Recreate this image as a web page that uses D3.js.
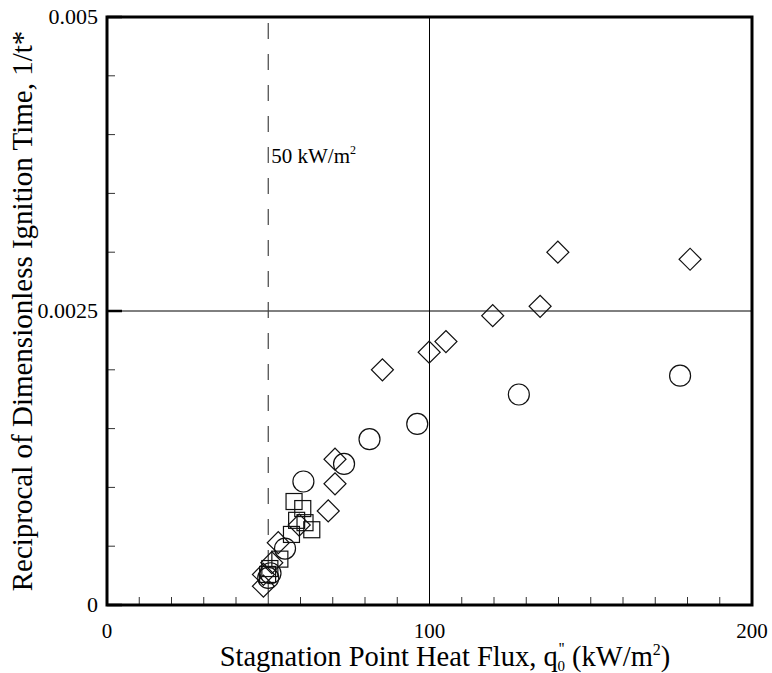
<!DOCTYPE html>
<html>
<head>
<meta charset="utf-8">
<script src="https://cdn.jsdelivr.net/npm/d3@7"></script>
<style>
  html, body { margin: 0; padding: 0; background: #fff; }
  svg { display: block; }
  text { font-family: "Liberation Serif", "Times New Roman", serif; fill: #000; }
</style>
</head>
<body>
<script>
// Ignition data: stagnation point heat flux (kW/m^2) vs reciprocal of dimensionless ignition time
const diamondFlux = [139.8, 180.8, 134.3, 119.6, 105.1, 99.9, 85.4, 70.7, 70.7, 68.6, 59.6, 53.1, 51.1, 48.5, 48.5];
const diamondInv  = [0.00300, 0.00294, 0.00254, 0.00246, 0.00224, 0.00215, 0.00200, 0.00124, 0.00103, 0.00080, 0.00068, 0.00053, 0.00036, 0.00026, 0.00016];

const circleFlux = [177.7, 127.7, 96.2, 81.4, 73.5, 60.9, 55.2, 50.7, 50.0];
const circleInv  = [0.00195, 0.00179, 0.00154, 0.00141, 0.00120, 0.00105, 0.00048, 0.00027, 0.00023];

const squareFlux = [58.0, 60.7, 58.8, 61.4, 63.5, 57.2, 53.6, 50.5, 49.8];
const squareInv  = [0.00088, 0.00082, 0.00072, 0.00070, 0.00064, 0.00060, 0.00039, 0.00031, 0.00026];

const xMajorTicks = [0, 100, 200];
const yMajorTicks = [0, 0.0025, 0.005];
const yTickLabels = ["0", "0.0025", "0.005"];
const refFlux = 50;

const W = 772, H = 673;
const margin = { left: 107, right: 20, top: 17, bottom: 68 };

const svg = d3.select("body").append("svg").attr("width", W).attr("height", H);

const x = d3.scaleLinear().domain([0, 200]).range([margin.left, W - margin.right]);
const y = d3.scaleLinear().domain([0, 0.005]).range([H - margin.bottom, margin.top]);

const x0 = x.range()[0], x1 = x.range()[1];
const y0 = y.range()[0], y1 = y.range()[1];

// Grid lines at the middle major ticks
svg.append("line").attr("x1", x(100)).attr("x2", x(100)).attr("y1", y1).attr("y2", y0)
  .attr("stroke", "#000").attr("stroke-width", 1);
svg.append("line").attr("x1", x0).attr("x2", x1).attr("y1", y(0.0025)).attr("y2", y(0.0025))
  .attr("stroke", "#000").attr("stroke-width", 1);

// Reference heat flux
svg.append("line").attr("x1", x(refFlux)).attr("x2", x(refFlux)).attr("y1", y1).attr("y2", y0)
  .attr("stroke", "#444").attr("stroke-width", 1.2).attr("stroke-dasharray", "16,15")
  .attr("stroke-dashoffset", -6);
svg.append("text").attr("x", x(refFlux) + 3).attr("y", 163).attr("font-size", 21).text("50 kW/m")
  .append("tspan").attr("dy", -9).attr("font-size", 12).text("2");

// Minor ticks
const xMinor = d3.range(10, 200, 10).filter(v => v !== 100);
svg.append("g").selectAll("line").data(xMinor).join("line")
  .attr("x1", d => x(d)).attr("x2", d => x(d)).attr("y1", y0).attr("y2", y0 - 8)
  .attr("stroke", "#333").attr("stroke-width", 1);
const yMinor = d3.range(1, 10).map(i => i * 0.0005).filter(v => Math.abs(v - 0.0025) > 1e-9);
svg.append("g").selectAll("line").data(yMinor).join("line")
  .attr("x1", x0).attr("x2", x0 + 8).attr("y1", d => y(d)).attr("y2", d => y(d))
  .attr("stroke", "#333").attr("stroke-width", 1);
// Major ticks on the left
svg.append("g").selectAll("line").data(yMajorTicks).join("line")
  .attr("x1", x0).attr("x2", x0 + 15).attr("y1", d => y(d)).attr("y2", d => y(d))
  .attr("stroke", "#000").attr("stroke-width", 2.5);

// Markers
const mk = svg.append("g").attr("fill", "none").attr("stroke", "#111").attr("stroke-width", 1.2);
const sq = squareFlux.map((v, i) => [v, squareInv[i]]);
mk.selectAll("rect.sq").data(sq).join("rect")
  .attr("x", d => x(d[0]) - 8).attr("y", d => y(d[1]) - 8).attr("width", 16).attr("height", 16);
const ci = circleFlux.map((v, i) => [v, circleInv[i]]);
mk.selectAll("circle").data(ci).join("circle")
  .attr("cx", d => x(d[0])).attr("cy", d => y(d[1])).attr("r", 10.5);
const di = diamondFlux.map((v, i) => [v, diamondInv[i]]);
const dsym = d3.symbol().type(d3.symbolSquare).size(2 * 11 * 11);
mk.selectAll("path.di").data(di).join("path")
  .attr("d", dsym)
  .attr("transform", d => `translate(${x(d[0])},${y(d[1])}) rotate(45)`);

// Frame
svg.append("rect").attr("x", x0).attr("y", y1).attr("width", x1 - x0).attr("height", y0 - y1)
  .attr("fill", "none").attr("stroke", "#000").attr("stroke-width", 3);

// Tick labels
svg.append("g").selectAll("text").data(xMajorTicks).join("text")
  .attr("x", d => x(d)).attr("y", y0 + 33).attr("text-anchor", "middle").attr("font-size", 21)
  .text(d => d);
svg.append("g").selectAll("text").data(yMajorTicks).join("text")
  .attr("x", x0 - 9).attr("y", d => y(d) + 7).attr("text-anchor", "end").attr("font-size", 22)
  .text((d, i) => yTickLabels[i]);

// Axis titles
const xt = svg.append("text").attr("x", 445).attr("y", 666).attr("text-anchor", "middle").attr("font-size", 28.5);
xt.append("tspan").text("Stagnation Point Heat Flux, q");
xt.append("tspan").attr("dy", -12).attr("dx", 1).attr("font-size", 16).text("''");
xt.append("tspan").attr("dy", 17).attr("dx", -7).attr("font-size", 15).text("0");
xt.append("tspan").attr("dy", -5).text(" (kW/m");
xt.append("tspan").attr("dy", -11).attr("font-size", 16).text("2");
xt.append("tspan").attr("dy", 11).text(")");

svg.append("text").attr("transform", `translate(32,${(y0 + y1) / 2}) rotate(-90)`)
  .attr("text-anchor", "middle").attr("font-size", 29)
  .text("Reciprocal of Dimensionless Ignition Time, 1/t*");
</script>
</body>
</html>
